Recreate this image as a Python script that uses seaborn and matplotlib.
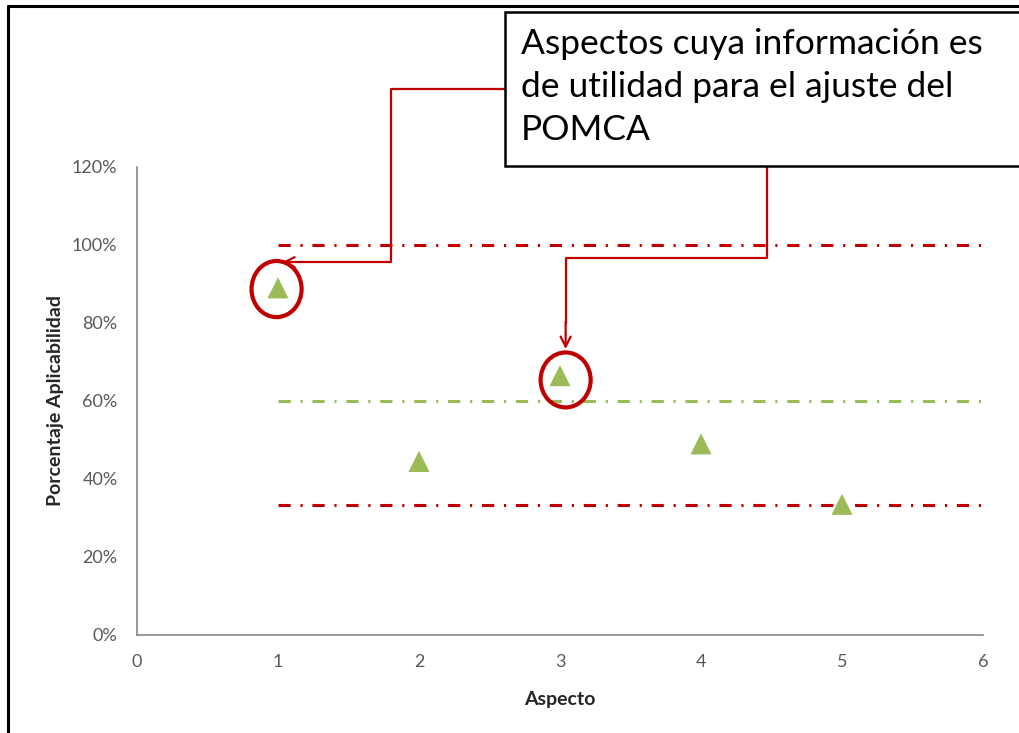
import matplotlib
matplotlib.use('Agg')
import matplotlib.pyplot as plt
import seaborn as sns
import pandas as pd
from matplotlib.patches import Ellipse, Rectangle
from matplotlib.lines import Line2D
from matplotlib.ticker import PercentFormatter

sns.set_style('white')
plt.rcParams['font.family'] = ['Lato', 'DejaVu Sans']

aspecto = [1, 2, 3, 4, 5]
aplicabilidad = [0.89, 0.445, 0.665, 0.49, 0.335]

umbral_alto = 1.0
umbral_medio = 0.6
umbral_bajo = 1 / 3

red = '#C00000'
green = '#9BBB59'
gray = '#595959'

df = pd.DataFrame({'Aspecto': aspecto, 'Porcentaje Aplicabilidad': aplicabilidad})

fig = plt.figure(figsize=(10.19, 7.33), dpi=100)
ax = fig.add_axes([0.1344, 0.1337, 0.8303, 0.6385])

dashdot = (0, (4, 3.2, 0.7, 3.2))
ax.hlines([umbral_alto, umbral_bajo], 1, 6, colors=red, linewidth=2.2, linestyle=dashdot, zorder=1)
ax.hlines(umbral_medio, 1, 6, colors=green, linewidth=2.2, linestyle=dashdot, zorder=1)

sns.scatterplot(data=df, x='Aspecto', y='Porcentaje Aplicabilidad', marker='^', s=230,
                color=green, edgecolor='none', ax=ax, zorder=3)

ax.set_xlim(0, 6)
ax.set_ylim(0, 1.2)
ax.set_xticks(range(0, 7))
ax.set_yticks([0, 0.2, 0.4, 0.6, 0.8, 1.0, 1.2])
ax.yaxis.set_major_formatter(PercentFormatter(1.0, decimals=0))
ax.tick_params(axis='both', length=0, labelsize=13, colors=gray)
ax.tick_params(axis='x', pad=14)
ax.tick_params(axis='y', pad=14)
for s in ['top', 'right']:
    ax.spines[s].set_visible(False)
for s in ['left', 'bottom']:
    ax.spines[s].set_color('#868686')
    ax.spines[s].set_linewidth(1.2)
ax.set_xlabel('Aspecto', fontsize=14, fontweight='bold', labelpad=15)
ax.set_ylabel('Porcentaje Aplicabilidad', fontsize=14, fontweight='bold', labelpad=6)

# circles around highlighted points
ax.add_patch(Ellipse((0.99, 0.887), 0.355, 0.144, fill=False, edgecolor=red, linewidth=3, clip_on=False, zorder=4))
ax.add_patch(Ellipse((3.04, 0.654), 0.355, 0.141, fill=False, edgecolor=red, linewidth=3, clip_on=False, zorder=4))

# connectors from the note box
ax.plot([2.61, 1.80, 1.80, 1.10], [1.40, 1.40, 0.956, 0.956], color=red, linewidth=1.6, clip_on=False, zorder=4)
ax.annotate('', xy=(1.01, 0.956), xytext=(1.12, 0.956), annotation_clip=False,
            arrowprops=dict(arrowstyle='->', color=red, lw=1.6, mutation_scale=18))
ax.plot([4.47, 4.47, 3.04, 3.04], [1.203, 0.967, 0.967, 0.80], color=red, linewidth=1.6, clip_on=False, zorder=4)
ax.annotate('', xy=(3.04, 0.726), xytext=(3.04, 0.81), annotation_clip=False,
            arrowprops=dict(arrowstyle='->', color=red, lw=1.6, mutation_scale=18))

# note box
W, H = 1019, 733
fig.patches.append(Rectangle((505 / W, (H - 166) / H), 0.6, 154 / H, transform=fig.transFigure,
                             facecolor='white', edgecolor='black', linewidth=1.8, zorder=5))
fig.text(521 / W, (H - 28) / H, 'Aspectos cuya información es\nde utilidad para el ajuste del\nPOMCA',
         fontsize=25.5, va='top', ha='left', linespacing=1.42, color='black', zorder=6)

# outer frame
fig.add_artist(Line2D([8 / W, 8 / W], [0, (H - 6) / H], color='black', linewidth=2.2, transform=fig.transFigure))
fig.add_artist(Line2D([8 / W, 1], [(H - 6) / H, (H - 6) / H], color='black', linewidth=2.2, transform=fig.transFigure))

fig.savefig('out.png', dpi=100)
